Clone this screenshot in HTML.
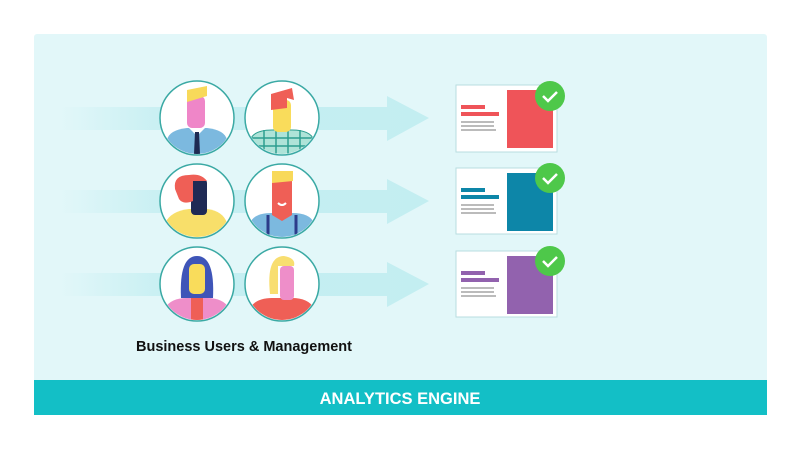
<!DOCTYPE html>
<html><head><style>
body{margin:0;width:800px;height:450px;background:#fff;overflow:hidden;font-family:"Liberation Sans",sans-serif}
</style></head><body>
<svg width="800" height="450" viewBox="0 0 800 450" xmlns="http://www.w3.org/2000/svg">
<defs>
<linearGradient id="ag" x1="0" x2="1"><stop offset="0" stop-color="#c6eff2" stop-opacity="0"/><stop offset="0.3" stop-color="#c6eff2"/><stop offset="1" stop-color="#c3eef1"/></linearGradient>
<clipPath id="c1"><circle cx="0" cy="0" r="36"/></clipPath>
</defs>
<rect x="34" y="34" width="733" height="381" rx="3" fill="#e2f7f9"/>
<rect x="34" y="380" width="733" height="35" fill="#13bfc6"/>
<text x="400" y="404" text-anchor="middle" font-size="16.5" font-weight="bold" fill="#fff" font-family="Liberation Sans, sans-serif">ANALYTICS ENGINE</text>
<g fill="url(#ag)">
<path d="M60 107H387V96L429 118L387 141V130H60Z"/>
<path d="M60 190H387V179L429 201L387 224V213H60Z"/>
<path d="M60 273H387V262L429 284L387 307V296H60Z"/>
</g>
<g transform="translate(197,118)"><circle r="37" fill="#fff" stroke="#3aa9a4" stroke-width="1.5"/><g clip-path="url(#c1)">
<path d="M-30 40V22Q-28 12 -10 10H10Q28 12 30 22V40Z" fill="#7cb9df"/><path d="M-8 10L0 18L8 10Z" fill="#fff"/><path d="M-2 14H2L3 36H-3Z" fill="#1e2a52"/>
<rect x="-10" y="-22" width="18" height="32" rx="5" fill="#ef86c8"/><path d="M-10 -16V-28L10 -32V-22Z" fill="#f8d95a"/></g></g>
<g transform="translate(282,118)"><circle r="37" fill="#fff" stroke="#3aa9a4" stroke-width="1.5"/><g clip-path="url(#c1)">
<path d="M-32 40V22Q-28 12 -10 12H10Q28 12 32 22V40Z" fill="#aee3d8" stroke="#2d9e90" stroke-width="1"/>
<path d="M-30 20H30M-30 28H30M-18 12V40M-6 12V40M6 12V40M18 12V40" stroke="#2d9e90" stroke-width="1.5"/>
<rect x="-9" y="-18" width="18" height="32" rx="5" fill="#f9dc5b"/><path d="M-11 -8V-24L10 -30L12 -18L5 -20V-10Z" fill="#ef5f56"/></g></g>
<g transform="translate(197,201)"><circle r="37" fill="#fff" stroke="#3aa9a4" stroke-width="1.5"/><g clip-path="url(#c1)">
<path d="M-32 40V22Q-26 10 -8 8H10Q26 10 30 22V40Z" fill="#f8df6a"/>
<rect x="-6" y="-22" width="16" height="36" rx="4" fill="#1f2a55"/><path d="M-22 -12Q-24 -26 -8 -26Q4 -28 10 -20H-4V0Q-14 4 -18 -2Z" fill="#ef5f56"/></g></g>
<g transform="translate(282,201)"><circle r="37" fill="#fff" stroke="#3aa9a4" stroke-width="1.5"/><g clip-path="url(#c1)">
<path d="M-32 40V22Q-28 12 -10 12H10Q28 12 32 22V40Z" fill="#7cb9df"/><path d="M-14 14V40M14 14V40" stroke="#2c3c8a" stroke-width="3"/>
<path d="M-10 -22H10V14L0 20L-10 14Z" fill="#ef5f56"/><path d="M-10 -18V-30H11V-20Z" fill="#f8d95a"/><path d="M-4 2Q0 6 4 2" stroke="#fff" stroke-width="2" fill="none"/></g></g>
<g transform="translate(197,284)"><circle r="37" fill="#fff" stroke="#3aa9a4" stroke-width="1.5"/><g clip-path="url(#c1)">
<path d="M-16 14Q-18 -28 0 -28Q18 -28 16 14Z" fill="#3f55b8"/>
<path d="M-32 40V24Q-26 14 -10 14H10Q26 14 32 24V40Z" fill="#ee8ec9"/><rect x="-6" y="14" width="12" height="26" fill="#ef5f56"/>
<rect x="-8" y="-20" width="16" height="30" rx="5" fill="#f9dc5b"/></g></g>
<g transform="translate(282,284)"><circle r="37" fill="#fff" stroke="#3aa9a4" stroke-width="1.5"/><g clip-path="url(#c1)">
<path d="M-32 40V24Q-26 14 -10 14H10Q26 14 32 24V40Z" fill="#ef5f56"/>
<path d="M-12 10Q-16 -28 2 -28Q14 -26 12 -18H-4V10Z" fill="#f8de70"/><rect x="-2" y="-18" width="14" height="34" rx="4" fill="#ee8ec9"/></g></g>
<g transform="translate(456,85)"><rect x="0" y="0" width="101" height="67" fill="#fff" stroke="#b8dde0"/><rect x="51" y="5" width="46" height="58" fill="#ef5459"/>
<rect x="5" y="20" width="24" height="4" fill="#ef5459"/><rect x="5" y="27" width="38" height="4" fill="#ef5459"/>
<rect x="5" y="36" width="33" height="2" fill="#bbb"/><rect x="5" y="40" width="33" height="2" fill="#bbb"/><rect x="5" y="44" width="35" height="2" fill="#bbb"/>
<circle cx="94" cy="11" r="15" fill="#4ec84a"/><path d="M87 11L92 16L101 7" stroke="#fff" stroke-width="2.5" fill="none"/></g>
<g transform="translate(456,168)"><rect x="0" y="0" width="101" height="66" fill="#fff" stroke="#b8dde0"/><rect x="51" y="5" width="46" height="58" fill="#0d86a8"/>
<rect x="5" y="20" width="24" height="4" fill="#0d86a8"/><rect x="5" y="27" width="38" height="4" fill="#0d86a8"/>
<rect x="5" y="36" width="33" height="2" fill="#bbb"/><rect x="5" y="40" width="33" height="2" fill="#bbb"/><rect x="5" y="44" width="35" height="2" fill="#bbb"/>
<circle cx="94" cy="10" r="15" fill="#4ec84a"/><path d="M87 10L92 15L101 6" stroke="#fff" stroke-width="2.5" fill="none"/></g>
<g transform="translate(456,251)"><rect x="0" y="0" width="101" height="66" fill="#fff" stroke="#b8dde0"/><rect x="51" y="5" width="46" height="58" fill="#9262ae"/>
<rect x="5" y="20" width="24" height="4" fill="#9262ae"/><rect x="5" y="27" width="38" height="4" fill="#9262ae"/>
<rect x="5" y="36" width="33" height="2" fill="#bbb"/><rect x="5" y="40" width="33" height="2" fill="#bbb"/><rect x="5" y="44" width="35" height="2" fill="#bbb"/>
<circle cx="94" cy="10" r="15" fill="#4ec84a"/><path d="M87 10L92 15L101 6" stroke="#fff" stroke-width="2.5" fill="none"/></g>
<text x="244" y="351" text-anchor="middle" font-size="14.5" font-weight="bold" fill="#111" font-family="Liberation Sans, sans-serif">Business Users &amp; Management</text>
</svg>
</body></html>
